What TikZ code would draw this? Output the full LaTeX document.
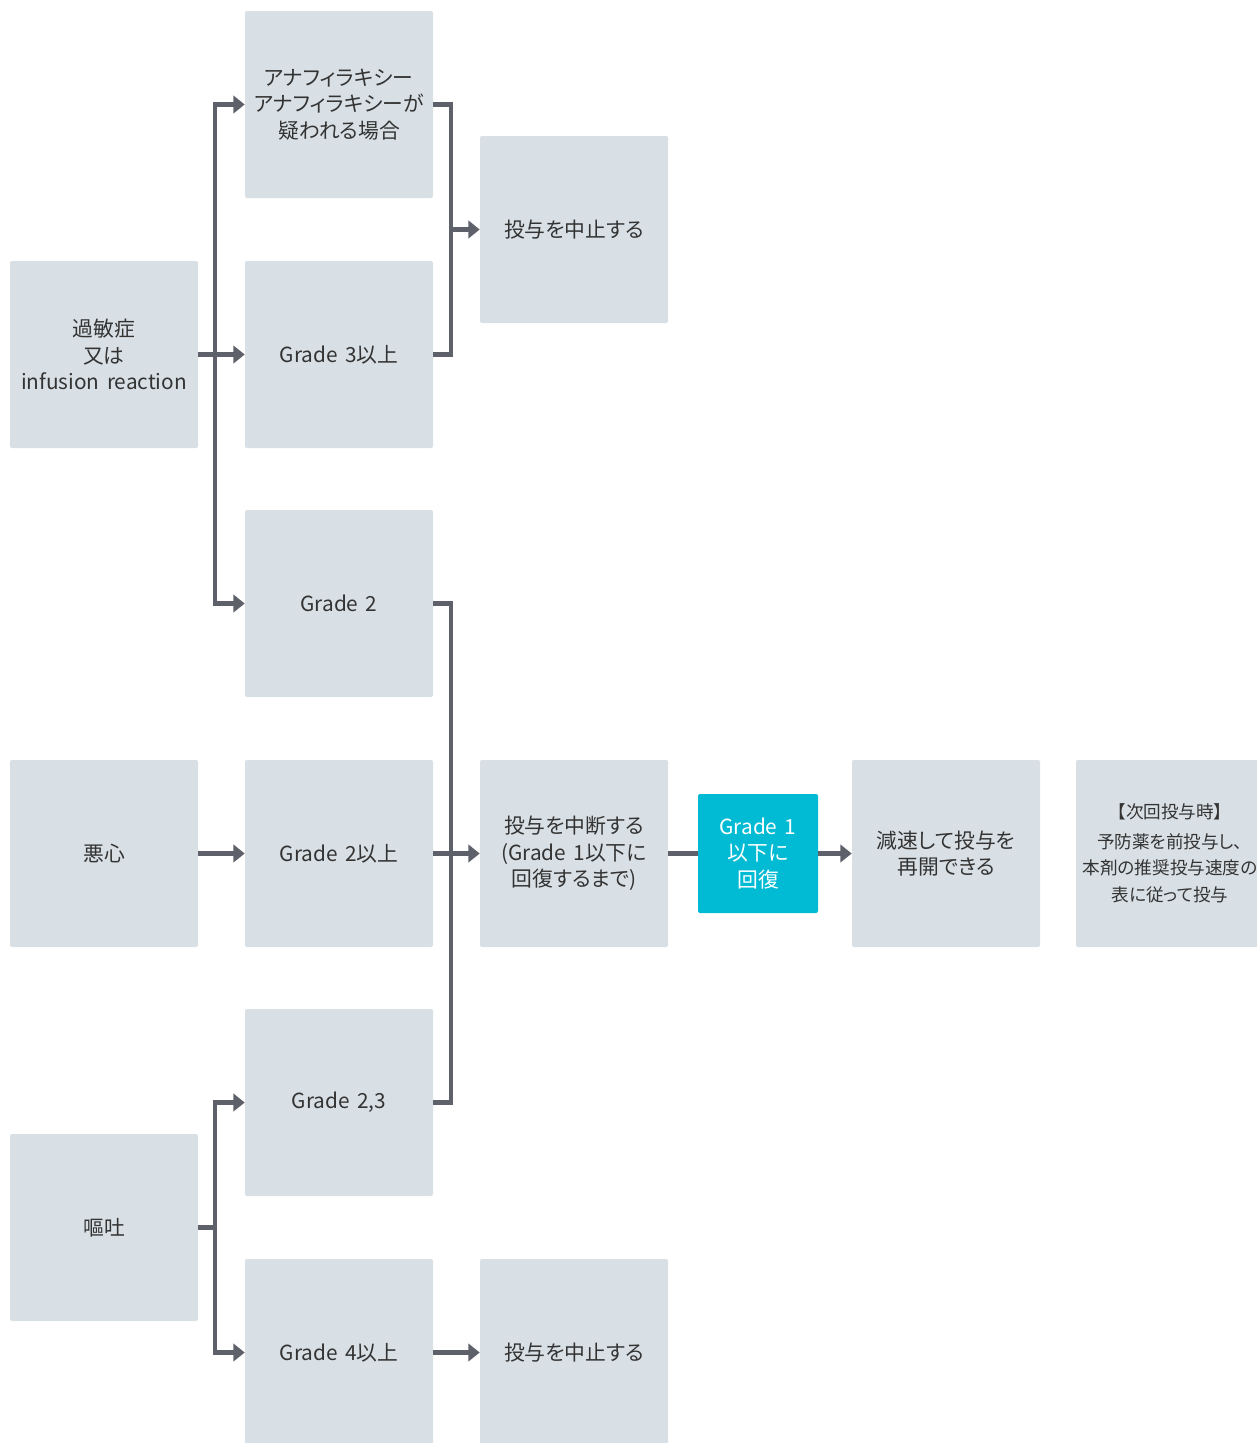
\documentclass[tikz,border=0pt]{standalone}
\usepackage{fontspec}
\setmainfont{Noto Sans CJK JP}[RawFeature=+palt, WordSpace={1.6}]
\usetikzlibrary{arrows.meta,calc}
\definecolor{boxfill}{HTML}{D9E0E5}
\definecolor{linecol}{HTML}{5E6169}
\definecolor{txtcol}{HTML}{333333}
\definecolor{cyanbox}{HTML}{00BBD3}
\tikzset{
  box/.style={rectangle, rounded corners=1.5pt, fill=boxfill, draw=none,
    minimum width=141pt, minimum height=140.25pt, inner sep=0pt, align=center,
    text=txtcol, font=\fontsize{15.6pt}{20pt}\selectfont},
  smallbox/.style={box, font=\fontsize{13.2pt}{20pt}\selectfont},
  gbox/.style={box, fill=cyanbox, text=white, minimum width=90pt, minimum height=89.25pt},
  ln/.style={draw=linecol, line width=3.6pt},
  arr/.style={ln, -{Triangle[length=8.5pt,width=13pt]}}
}
\begin{document}
\begin{tikzpicture}[x=0.75pt,y=-0.75pt]
\clip (0,0) rectangle (1257,1443);
\fill[white] (0,0) rectangle (1257,1443);
% nodes
\node[box] (sens) at (104,354.5) {過敏症\\又は\\infusion reaction};
\node[box] (ana) at (339,104.5) {アナフィラキシー\\アナフィラキシーが\\疑われる場合};
\node[box] (g3) at (339,354.5) {Grade 3以上};
\node[box] (stop1) at (574,229.5) {投与を中止する};
\node[box] (g2) at (339,603.5) {Grade 2};
\node[box] (nausea) at (104,853.5) {悪心};
\node[box] (g2up) at (339,853.5) {Grade 2以上};
\node[box] (interrupt) at (574,853.5) {投与を中断する\\(Grade 1以下に\\回復するまで)};
\node[gbox] (g1) at (758,853.5) {Grade 1\\以下に\\回復};
\node[box] (slow) at (946,853.5) {減速して投与を\\再開できる};
\node[smallbox] (next) at (1170,853.5) {【次回投与時】\\[2pt]予防薬を前投与し、\\本剤の推奨投与速度の\\表に従って投与};
\node[box] (g23) at (339,1102.5) {Grade 2,3};
\node[box] (vomit) at (104,1227.5) {嘔吐};
\node[box] (g4) at (339,1352.5) {Grade 4以上};
\node[box] (stop2) at (574,1352.5) {投与を中止する};
% junction coordinates
\coordinate (tA) at (215,354.5);
\coordinate (bR) at (451,229.5);
\coordinate (bM) at (451,853.5);
\coordinate (tV) at (215,1227.5);
% connectors
\draw[arr] (sens.east) -- (g3.west);
\draw[arr] (tA) |- (ana.west);
\draw[arr] (tA) |- (g2.west);
\draw[ln] (ana.east) -| (bR) |- (g3.east);
\draw[arr] (bR) -- (stop1.west);
\draw[ln] (g2.east) -| (bM) |- (g23.east);
\draw[arr] (nausea.east) -- (g2up.west);
\draw[arr] (g2up.east) -- (interrupt.west);
\draw[ln] (interrupt.east) -- (g1.west);
\draw[arr] (g1.east) -- (slow.west);
\draw[ln] (vomit.east) -- (tV);
\draw[arr] (tV) |- (g23.west);
\draw[arr] (tV) |- (g4.west);
\draw[arr] (g4.east) -- (stop2.west);
\end{tikzpicture}
\end{document}
